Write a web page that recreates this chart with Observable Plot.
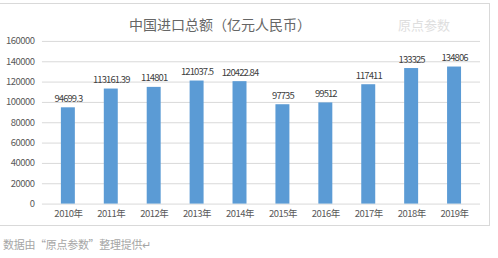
<!DOCTYPE html>
<html><head><meta charset="utf-8">
<script src="https://cdn.jsdelivr.net/npm/d3@7"></script>
<script src="https://cdn.jsdelivr.net/npm/@observablehq/plot@0.6"></script>
<style>
body{margin:0;background:#fff;font-family:"Noto Sans CJK SC",sans-serif;}
#frame{position:absolute;left:0;top:3px;width:490px;height:223px;border:1px solid #d9d9d9;border-left:none;box-sizing:border-box;}
#title{position:absolute;left:0;width:440px;top:10px;text-align:center;font-size:14px;color:#666;}
#wm{position:absolute;left:398px;top:11px;font-size:13px;color:#dedede;}
#chart{position:absolute;left:0;top:0;}
#chart g[aria-label="y-axis tick label"] text, #chart g[aria-label="x-axis tick label"] text{letter-spacing:-0.5px;}
#chart g[aria-label="text"] text{letter-spacing:-0.9px;}
#cap{position:absolute;left:3px;top:236px;font-size:11px;color:#a6a6a6;letter-spacing:-0.3px;}
</style></head><body>
<div id="frame">
<div id="chart"></div>
<div id="title">中国进口总额（亿元人民币）</div>
<div id="wm">原点参数</div>
</div>
<div id="cap">数据由“原点参数”整理提供↵</div>
<script>
const years = ["2010年","2011年","2012年","2013年","2014年","2015年","2016年","2017年","2018年","2019年"];
const values = [94699.3,113161.39,114801,121037.5,120422.84,97735,99512,117411,133325,134806];
const labels = ["94699.3","113161.39","114801","121037.5","120422.84","97735","99512","117411","133325","134806"];
const yTicks = [0,20000,40000,60000,80000,100000,120000,140000,160000];
const data = years.map((y,i)=>({year:y,value:values[i],label:labels[i]}));
const chart = Plot.plot({
  width:490, height:223,
  marginTop:37, marginBottom:23, marginLeft:42, marginRight:9,
  style:{fontFamily:"'Noto Sans CJK SC', sans-serif", fontSize:"9.5px", color:"#595959", background:"transparent"},
  x:{domain:years, paddingInner:0.68, paddingOuter:0.34, label:null, tickSize:0, tickPadding:6},
  y:{domain:[0,160000], ticks:yTicks, tickFormat:d=>String(d), label:null, tickSize:0, tickPadding:8},
  marks:[
    Plot.gridY(yTicks,{stroke:"#d9d9d9", strokeOpacity:1}),
    Plot.barY(data,{x:"year", y:"value", fill:"#5b9bd5"}),
    Plot.text(data,{x:"year", y:"value", text:"label", dy:-9, fill:"#404040", fontSize:9.5})
  ]
});
document.getElementById("chart").appendChild(chart);
</script>
</body></html>
